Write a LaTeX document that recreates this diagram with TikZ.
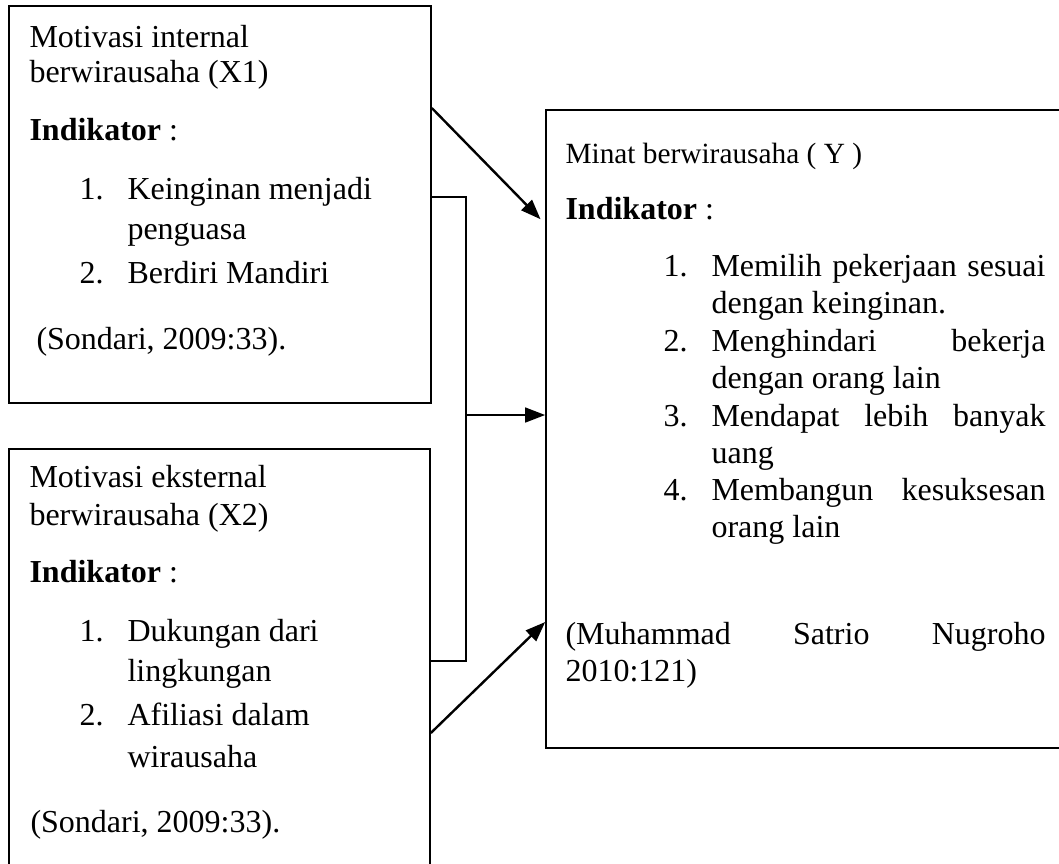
\documentclass[tikz,border=0pt]{standalone}
\usepackage{fontspec}
\setmainfont{Liberation Serif}
\usetikzlibrary{arrows.meta}

\tikzset{
  box/.style={draw, rectangle, line width=0.6pt, inner sep=0pt},
  link/.style={line width=0.9pt},
  flow/.style={link, -{Triangle[length=7.5pt, width=5.5pt]}},
  txt/.style={anchor=base west, inner sep=0pt, font=\fontsize{12pt}{14pt}\selectfont},
  smalltxt/.style={txt, font=\fontsize{11pt}{13pt}\selectfont},
}
\newcommand{\jline}[2]{\makebox[#1][s]{#2}}

\begin{document}
\begin{tikzpicture}[x=0.375pt, y=-0.375pt]%
\useasboundingbox (0,0) rectangle (1059,863);%
\clip (0,0) rectangle (1059,863);%
% boxes
\node[box, minimum width=158.25pt, minimum height=148.875pt] (x1box) at (220,204.5) {};%
\node[box, minimum width=157.875pt, minimum height=159pt] (x2box) at (219.5,661) {};%
\node[box, minimum width=198.375pt, minimum height=239.25pt] (ybox) at (810.5,429) {};%
% internal motivation
\node[txt] (x1name) at (29,47) {Motivasi internal};%
\node[txt] (x1var) at (29,82) {berwirausaha (X1)};%
\node[txt] (x1ind) at (29,140) {\textbf{Indikator} :};%
\node[txt] (x1num1) at (79,199) {1.};%
\node[txt] (x1item1) at (127,199) {Keinginan menjadi};%
\node[txt] (x1item1b) at (127,239) {penguasa};%
\node[txt] (x1num2) at (79,283) {2.};%
\node[txt] (x1item2) at (127,283) {Berdiri Mandiri};%
\node[txt] (x1src) at (36,349) {(Sondari, 2009:33).};%
% external motivation
\node[txt] (x2name) at (29,487) {Motivasi eksternal};%
\node[txt] (x2var) at (29,525) {berwirausaha (X2)};%
\node[txt] (x2ind) at (29,582) {\textbf{Indikator} :};%
\node[txt] (x2num1) at (79,641) {1.};%
\node[txt] (x2item1) at (127,641) {Dukungan dari};%
\node[txt] (x2item1b) at (127,681) {lingkungan};%
\node[txt] (x2num2) at (79,725) {2.};%
\node[txt] (x2item2) at (127,725) {Afiliasi dalam};%
\node[txt] (x2item2b) at (127,767) {wirausaha};%
\node[txt] (x2src) at (30,832) {(Sondari, 2009:33).};%
% interest
\node[smalltxt] (yname) at (565,163) {Minat berwirausaha ( Y )};%
\node[txt] (yind) at (565,219) {\textbf{Indikator} :};%
\node[txt] (ynum1) at (663,276) {1.};%
\node[txt] (yitem1) at (711,276) {\jline{125.25pt}{Memilih pekerjaan sesuai}};%
\node[txt] (yitem1b) at (711,313) {dengan keinginan.};%
\node[txt] (ynum2) at (663,351) {2.};%
\node[txt] (yitem2) at (711,351) {\jline{125.25pt}{Menghindari bekerja}};%
\node[txt] (yitem2b) at (711,388) {dengan orang lain};%
\node[txt] (ynum3) at (663,426) {3.};%
\node[txt] (yitem3) at (711,426) {\jline{125.25pt}{Mendapat lebih banyak}};%
\node[txt] (yitem3b) at (711,463) {uang};%
\node[txt] (ynum4) at (663,500) {4.};%
\node[txt] (yitem4) at (711,500) {\jline{125.25pt}{Membangun kesuksesan}};%
\node[txt] (yitem4b) at (711,537) {orang lain};%
\node[txt] (ysrc) at (565,644) {\jline{180pt}{(Muhammad Satrio Nugroho}};%
\node[txt] (ysrcb) at (565,681) {2010:121)};%
% connectors
\coordinate (upper) at (466,197);%
\coordinate (fork) at (466,415);%
\coordinate (lower) at (466,661);%
\coordinate (x1out) at (431,108);%
\coordinate (yin1) at (539,224);%
\coordinate (x2out) at (431,733);%
\coordinate (yin3) at (544,622);%
\draw[link] (x1box.east |- upper) -- (upper) -- (lower) -- (x2box.east);%
\draw[flow] (fork) -- (ybox.west |- fork);%
\draw[flow, shorten >=2.5pt] (x1box.east |- x1out) -- (ybox.west |- yin1);%
\draw[flow] (x2box.east |- x2out) -- (ybox.west |- yin3);%
\end{tikzpicture}
\end{document}
